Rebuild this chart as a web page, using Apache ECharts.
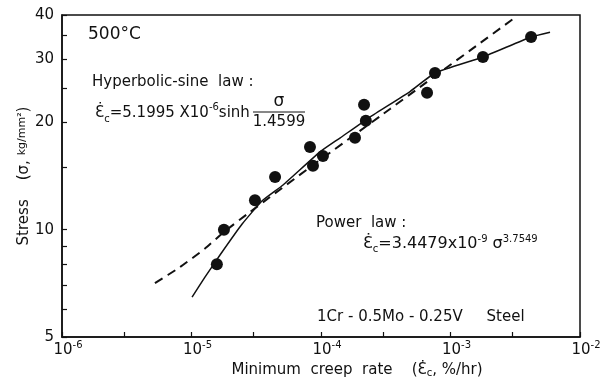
<!DOCTYPE html>
<html><head><meta charset="utf-8">
<script src="https://cdn.jsdelivr.net/npm/echarts@6/dist/echarts.min.js"></script>
<style>html,body{margin:0;padding:0;background:#fff}#c{width:615px;height:384px}</style>
</head><body><div id="c"></div>
<script>
// Measured points: minimum creep rate (%/hr) vs stress (kg/mm^2)
const pointRates  = [1.57e-5, 1.78e-5, 3.09e-5, 4.42e-5, 8.22e-5, 8.67e-5, 1.035e-4, 1.83e-4, 2.15e-4, 2.22e-4, 6.59e-4, 7.59e-4, 1.78e-3, 4.19e-3];
const pointStress = [8.0, 10.0, 12.1, 14.05, 17.05, 15.1, 16.1, 18.1, 22.4, 20.2, 24.2, 27.5, 30.5, 34.7];
// Power law fit (dashed)
const powerRates  = [5.22e-6, 8.15e-6, 1.27e-5, 1.78e-5, 2.83e-5, 8.68e-5, 3.41e-4, 3.04e-3];
const powerStress = [7.08, 7.85, 8.85, 9.85, 11.21, 15.18, 21.8, 38.97];
// Hyperbolic-sine law fit (solid)
const sinhRates  = [1.01e-5, 1.27e-5, 1.66e-5, 2.46e-5, 3.50e-5, 5.09e-5, 9.82e-5, 1.40e-4, 2.39e-4, 4.87e-4, 7.59e-4, 1.78e-3, 4.19e-3, 5.87e-3];
const sinhStress = [6.47, 7.36, 8.49, 10.37, 12.03, 13.34, 16.52, 18.07, 20.7, 24.4, 27.5, 30.5, 34.7, 35.8];
// Ticks
const xTickValues = [1e-6, 1e-5, 1e-4, 1e-3, 1e-2];
const xTickExponents = ['-6', '-5', '-4', '-3', '-2'];
const xMinorTickValues = [3e-6, 3e-5, 3e-4, 3e-3];
const yTickValues = [5, 10, 20, 30, 40];
const yTickLabels = ['5', '10', '20', '30', '40'];
const yMinorTickValues = [6, 7, 8, 9, 15, 25, 35];

const FONT = '"DejaVu Sans", sans-serif';
const INK = '#111';
const zip = (a, b) => a.map((v, i) => [v, b[i]]);
const richTok = {
  n: {font: '15px ' + FONT, fill: INK, lineHeight: 22, verticalAlign: 'middle'},
  sub: {font: '10px ' + FONT, fill: INK, verticalAlign: 'bottom', lineHeight: 12},
  sup: {font: '10px ' + FONT, fill: INK, verticalAlign: 'top', lineHeight: 10}
};
const richTok16 = {
  n: {font: '16px ' + FONT, fill: INK, lineHeight: 20, verticalAlign: 'middle'},
  sub: {font: '10px ' + FONT, fill: INK, verticalAlign: 'bottom', lineHeight: 12},
  sup: {font: '10px ' + FONT, fill: INK, verticalAlign: 'top', lineHeight: 10}
};

const chart = echarts.init(document.getElementById('c'), null, {renderer: 'canvas'});
chart.setOption({
  animation: false,
  backgroundColor: '#fff',
  grid: {left: 62, right: 35, top: 15, bottom: 47, show: true, borderColor: INK, borderWidth: 1.5},
  xAxis: {
    type: 'log', logBase: 10, min: 1e-6, max: 1e-2,
    axisLine: {show: true, lineStyle: {color: INK, width: 1.5}},
    axisTick: {show: true, inside: true, length: 5, lineStyle: {color: INK, width: 1.2},
      customValues: xTickValues.concat(xMinorTickValues)},
    splitLine: {show: false},
    axisLabel: {
      customValues: xTickValues, margin: 3, padding: [0, 0, 0, 12],
      formatter: function (v) {
        const e = Math.log10(v);
        let idx = 0, best = 1e9;
        xTickValues.forEach((t, i) => { const d = Math.abs(Math.log10(t) - e); if (d < best) { best = d; idx = i; } });
        return '{b|10}{s|' + xTickExponents[idx] + '}';
      },
      rich: {
        b: {fontFamily: FONT, fontSize: 15, color: INK, lineHeight: 18, verticalAlign: 'bottom'},
        s: {fontFamily: FONT, fontSize: 10, color: INK, lineHeight: 10, verticalAlign: 'top'}
      }
    },
    name: 'Minimum  creep  rate    (Ɛ̇{sub|c}, %/hr)',
    nameLocation: 'middle', nameGap: 26, nameMoveOverlap: false,
    nameTextStyle: {fontFamily: FONT, fontSize: 15, color: INK, padding: [0, 0, 0, 72],
      rich: {sub: {fontFamily: FONT, fontSize: 10, color: INK, verticalAlign: 'bottom', lineHeight: 10}}}
  },
  yAxis: {
    type: 'log', logBase: 10, min: 5, max: 40,
    axisLine: {show: true, lineStyle: {color: INK, width: 1.5}},
    axisTick: {show: true, inside: true, length: 5, lineStyle: {color: INK, width: 1.2},
      customValues: yTickValues.concat(yMinorTickValues)},
    splitLine: {show: false},
    axisLabel: {
      customValues: yTickValues, margin: 8,
      fontFamily: FONT, fontSize: 15, color: INK,
      formatter: function (v) {
        let idx = 0, best = 1e9;
        yTickValues.forEach((t, i) => { const d = Math.abs(t - v); if (d < best) { best = d; idx = i; } });
        return yTickLabels[idx];
      }
    },
    name: 'Stress    (σ, {s|kg/mm²})',
    nameLocation: 'middle', nameRotate: 90, nameGap: 30, nameMoveOverlap: false,
    nameTextStyle: {fontFamily: FONT, fontSize: 15, color: INK,
      rich: {s: {fontFamily: FONT, fontSize: 11, color: INK, verticalAlign: 'top', lineHeight: 12}}}
  },
  series: [
    {type: 'line', data: zip(powerRates, powerStress), showSymbol: false, smooth: 0.15,
     lineStyle: {color: INK, width: 2, type: [9, 6]}, z: 2},
    {type: 'line', data: zip(sinhRates, sinhStress), showSymbol: false, smooth: 0.15,
     lineStyle: {color: INK, width: 1.5}, z: 2},
    {type: 'scatter', data: zip(pointRates, pointStress), symbol: 'circle', symbolSize: 12,
     itemStyle: {color: INK, opacity: 1}, z: 3}
  ],
  graphic: [
    {type: 'text', style: {x: 88, y: 35, text: '500°C', font: '17px ' + FONT, fill: INK, textVerticalAlign: 'middle'}},
    {type: 'text', style: {x: 92, y: 82, text: 'Hyperbolic-sine  law :', font: '15px ' + FONT, fill: INK, textVerticalAlign: 'middle'}},
    {type: 'text', style: {x: 95, y: 113, text: '{n|Ɛ̇}{sub|c}{n|=5.1995 X10}{sup|-6}{n|sinh}', fill: INK, textVerticalAlign: 'middle', rich: richTok}},
    {type: 'text', style: {x: 279, y: 102, text: 'σ', font: '17px ' + FONT, fill: INK, textAlign: 'center', textVerticalAlign: 'middle'}},
    {type: 'line', shape: {x1: 253, y1: 112, x2: 305, y2: 112}, style: {stroke: INK, lineWidth: 1.2}},
    {type: 'text', style: {x: 279, y: 122, text: '1.4599', font: '15px ' + FONT, fill: INK, textAlign: 'center', textVerticalAlign: 'middle'}},
    {type: 'text', style: {x: 316, y: 223, text: 'Power  law :', font: '15px ' + FONT, fill: INK, textVerticalAlign: 'middle'}},
    {type: 'text', style: {x: 363, y: 244, text: '{n|Ɛ̇}{sub|c}{n|=3.4479x10}{sup|-9}{n| σ}{sup|3.7549}', fill: INK, textVerticalAlign: 'middle', rich: richTok16}},
    {type: 'text', style: {x: 317, y: 317, text: '1Cr - 0.5Mo - 0.25V     Steel', font: '15px ' + FONT, fill: INK, textVerticalAlign: 'middle'}}
  ]
});
</script></body></html>
